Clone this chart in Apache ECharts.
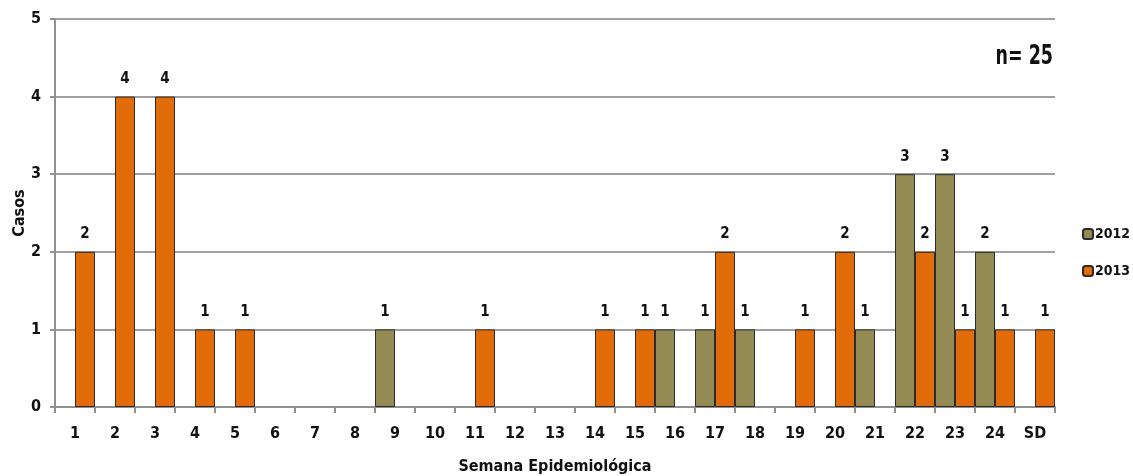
<!DOCTYPE html>
<html>
<head>
<meta charset="utf-8">
<script src="https://cdn.jsdelivr.net/npm/echarts@6/dist/echarts.min.js"></script>
<style>
  html, body { margin: 0; padding: 0; background: #fff; }
  #chart { width: 1133px; height: 476px; }
</style>
</head>
<body>
<div id="chart"></div>
<script>
// Epidemiological weeks plus "SD" (sin dato)
const weeks = ['1','2','3','4','5','6','7','8','9','10','11','12','13','14','15','16','17','18','19','20','21','22','23','24','SD'];

// Cases per week; null where there were none
const cases2012 = [null,null,null,null,null,null,null,null,1,null,null,null,null,null,null,1,1,1,null,null,1,3,3,2,null];
const cases2013 = [2,4,4,1,1,null,null,null,null,null,1,null,null,1,1,null,2,null,1,2,null,2,1,1,1];

const yTicks = [0, 1, 2, 3, 4, 5];
const totalLabel = 'n= 25';

const FONT = '"Liberation Sans Narrow", "DejaVu Sans Condensed", "Liberation Sans", sans-serif';
const GRID_COLOR = '#a0a0a0';

const chart = echarts.init(document.getElementById('chart'), null, { renderer: 'canvas' });

function barSeries(name, data, color) {
  return {
    name: name,
    type: 'bar',
    data: data,
    barGap: '0%',
    barCategoryGap: '0%',
    itemStyle: { color: color, borderColor: '#2b2b2b', borderWidth: 1 },
    label: {
      show: true,
      position: 'top',
      distance: 10,
      color: '#111',
      fontFamily: FONT,
      fontWeight: 'bold',
      fontSize: 15
    }
  };
}

chart.setOption({
  animation: false,
  backgroundColor: '#fff',
  grid: { left: 55, right: 78, top: 19, bottom: 69, containLabel: false, outerBoundsMode: 'none' },
  legend: {
    orient: 'vertical',
    left: 1077,
    top: 222,
    itemWidth: 10,
    itemHeight: 10,
    itemGap: 23,
    textStyle: { fontFamily: FONT, fontWeight: 'bold', fontSize: 14, color: '#111', padding: [0, 0, 0, -3] },
    data: ['2012', '2013']
  },
  xAxis: {
    type: 'category',
    data: weeks,
    name: 'Semana Epidemiológica',
    nameLocation: 'middle',
    nameGap: 52,
    nameTextStyle: { fontFamily: FONT, fontWeight: 'bold', fontSize: 16, color: '#111' },
    axisLine: { lineStyle: { color: '#909090', width: 2 } },
    axisTick: { show: true, interval: 0, length: 6, lineStyle: { color: '#909090', width: 2 } },
    axisLabel: { interval: 0, margin: 19, fontFamily: FONT, fontWeight: 'bold', fontSize: 16, color: '#111' }
  },
  yAxis: {
    type: 'value',
    min: yTicks[0],
    max: yTicks[yTicks.length - 1],
    interval: 1,
    name: 'Casos',
    nameLocation: 'middle',
    nameGap: 27,
    nameRotate: 90,
    nameMoveOverlap: false,
    nameTextStyle: { fontFamily: FONT, fontWeight: 'bold', fontSize: 16, color: '#111' },
    axisLine: { show: true, lineStyle: { color: '#909090', width: 2 } },
    axisTick: { show: true, length: 5, lineStyle: { color: '#909090', width: 2 } },
    axisLabel: { margin: 14, fontFamily: FONT, fontWeight: 'bold', fontSize: 16, color: '#111' },
    splitLine: { show: true, lineStyle: { color: GRID_COLOR, width: 2 } }
  },
  graphic: [{
    type: 'text',
    x: 1053,
    y: 57,
    scaleX: 0.72,
    style: {
      text: totalLabel,
      fontFamily: FONT,
      fontWeight: 'bold',
      fontSize: 27,
      fill: '#111',
      align: 'right',
      verticalAlign: 'middle'
    }
  }],
  series: [
    barSeries('2012', cases2012, '#948A54'),
    barSeries('2013', cases2013, '#E36C0A')
  ]
});
</script>
</body>
</html>
